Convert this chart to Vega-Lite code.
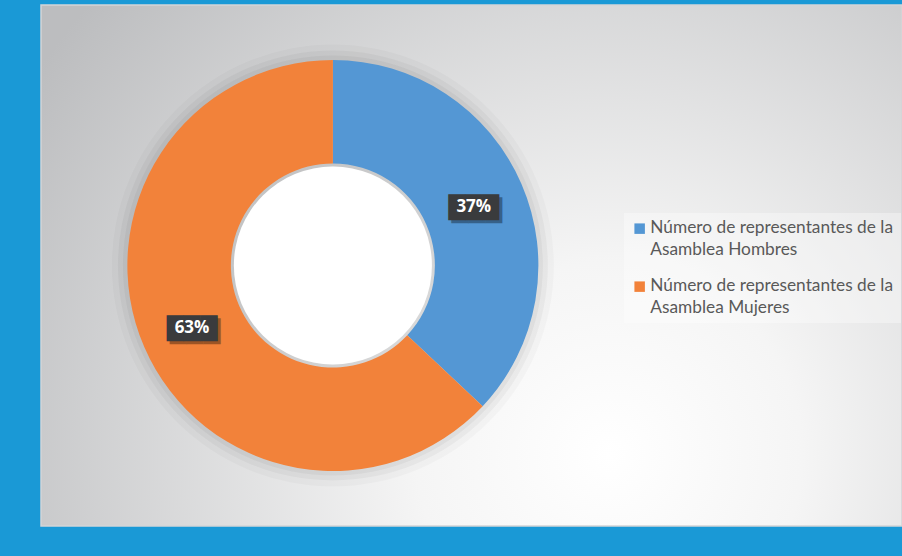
{
  "$schema": "https://vega.github.io/schema/vega-lite/v6.json",
  "width": 861,
  "height": 521,
  "autosize": {"type": "none"},
  "padding": {"left": 41, "top": 5, "right": 0, "bottom": 30},
  "background": "#1a99d6",
  "config": {
    "view": {
      "stroke": "#d4d5d7",
      "strokeWidth": 1.5,
      "fill": {
        "gradient": "radial",
        "x1": 0.66, "y1": 0.72, "r1": 0,
        "x2": 0.66, "y2": 0.72, "r2": 0.8,
        "stops": [
          {"offset": 0, "color": "#ffffff"},
          {"offset": 0.28, "color": "#f5f5f5"},
          {"offset": 1, "color": "#bcbdbf"}
        ]
      }
    }
  },
  "data": {
    "values": [
      {"categoria": "Número de representantes de la Asamblea Hombres", "pct": 0.37},
      {"categoria": "Número de representantes de la Asamblea Mujeres", "pct": 0.63}
    ]
  },
  "layer": [
    {
      "data": {"values": [{"s": 1}]},
      "mark": {"type": "arc", "theta": 0, "theta2": 6.2832, "outerRadius": 221, "innerRadius": 92, "fill": "#000000", "opacity": 0.025},
      "encoding": {"x": {"datum": 0.339, "type": "quantitative", "scale": {"domain": [0, 1]}, "axis": null}}
    },
    {
      "data": {"values": [{"s": 1}]},
      "mark": {"type": "arc", "theta": 0, "theta2": 6.2832, "outerRadius": 215, "innerRadius": 96, "fill": "#000000", "opacity": 0.035},
      "encoding": {"x": {"datum": 0.339, "type": "quantitative", "scale": {"domain": [0, 1]}, "axis": null}}
    },
    {
      "data": {"values": [{"s": 1}]},
      "mark": {"type": "arc", "theta": 0, "theta2": 6.2832, "outerRadius": 210, "innerRadius": 99, "fill": "#000000", "opacity": 0.04},
      "encoding": {"x": {"datum": 0.339, "type": "quantitative", "scale": {"domain": [0, 1]}, "axis": null}}
    },
    {
      "data": {"values": [{"s": 1}]},
      "mark": {"type": "arc", "theta": 0, "theta2": 6.2832, "outerRadius": 99, "innerRadius": 0, "fill": "#ffffff", "opacity": 1},
      "encoding": {"x": {"datum": 0.339, "type": "quantitative", "scale": {"domain": [0, 1]}, "axis": null}}
    },
    {
      "mark": {"type": "arc", "outerRadius": 205.5, "innerRadius": 102},
      "encoding": {
        "x": {"datum": 0.339, "type": "quantitative", "scale": {"domain": [0, 1]}, "axis": null},
        "theta": {"field": "pct", "type": "quantitative", "stack": true},
        "color": {
          "field": "categoria",
          "type": "nominal",
          "scale": {"range": ["#5497d4", "#f2823a"]},
          "legend": {
            "title": null,
            "orient": "none",
            "legendX": 583,
            "legendY": 208,
            "symbolType": "square",
            "symbolSize": 110,
            "symbolStrokeWidth": 0,
            "labelFont": "Lato",
            "labelFontSize": 17.3,
            "labelColor": "#595959",
            "labelLimit": 400,
            "labelExpr": "[slice(datum.label, 0, 30), slice(datum.label, 31)]",
            "labelBaseline": "top",
            "labelOffset": 2,
            "rowPadding": 18,
            "padding": 7,
            "fillColor": "rgba(255,255,255,0.35)",
            "encode": {"labels": {"update": {"lineHeight": {"value": 22}, "dy": {"value": -10}}}}
          }
        }
      }
    },
    {
      "mark": {"type": "text", "radius": 153.5, "text": "███", "font": "DejaVu Sans", "fontSize": 22, "color": "#000000", "opacity": 0.35, "dx": 3, "dy": 6, "align": "center", "baseline": "middle"},
      "encoding": {
        "x": {"datum": 0.339, "type": "quantitative", "scale": {"domain": [0, 1]}, "axis": null},
        "theta": {"field": "pct", "type": "quantitative", "stack": true}
      }
    },
    {
      "mark": {"type": "text", "radius": 153.5, "text": "███", "font": "DejaVu Sans", "fontSize": 22, "color": "#3a3b3d", "align": "center", "baseline": "middle", "dy": 3},
      "encoding": {
        "x": {"datum": 0.339, "type": "quantitative", "scale": {"domain": [0, 1]}, "axis": null},
        "theta": {"field": "pct", "type": "quantitative", "stack": true}
      }
    },
    {
      "mark": {"type": "text", "radius": 153.5, "font": "Open Sans", "fontSize": 17, "fontWeight": "bold", "color": "#ffffff", "align": "center", "baseline": "middle", "dy": 2},
      "encoding": {
        "x": {"datum": 0.339, "type": "quantitative", "scale": {"domain": [0, 1]}, "axis": null},
        "theta": {"field": "pct", "type": "quantitative", "stack": true},
        "text": {"field": "pct", "type": "quantitative", "format": ".0%"}
      }
    }
  ]
}
